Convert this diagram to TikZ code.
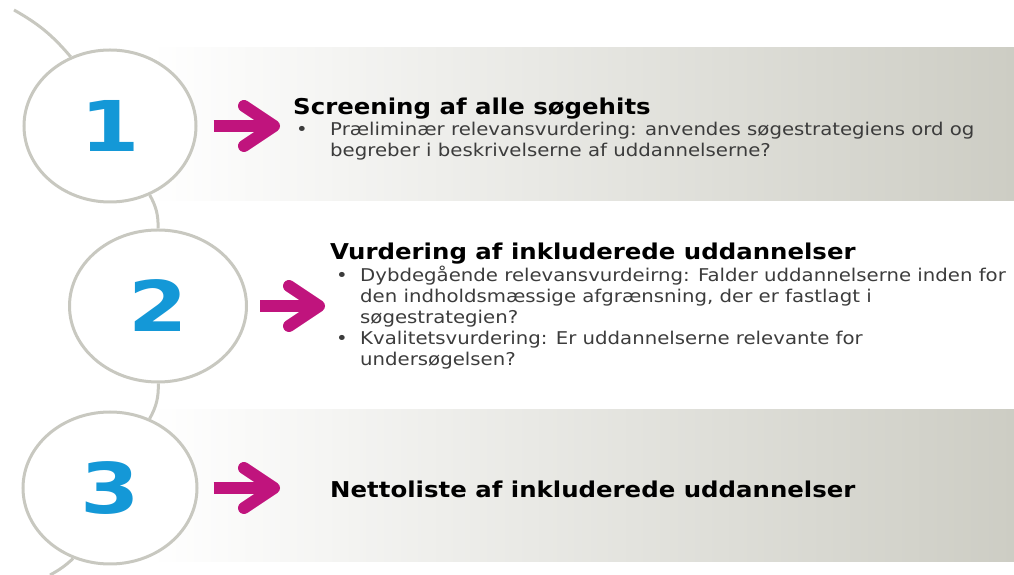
\documentclass[tikz,border=0pt]{standalone}
\usepackage{fontspec}
\setmainfont{DejaVu Sans}[FakeStretch=1.12]
\newfontfamily\numfont{DejaVu Sans}[FakeStretch=1.22]
\usetikzlibrary{shapes.geometric,arrows.meta}

\definecolor{bandgray}{RGB}{205,205,196}
\definecolor{ringgray}{RGB}{200,200,192}
\definecolor{numblue}{RGB}{20,152,215}
\definecolor{arrowpink}{RGB}{192,20,125}
\definecolor{bodygray}{RGB}{60,60,60}

% one bullet paragraph with a hanging indent
\newcommand{\pkt}[2]{\par\noindent\hangindent=#1\hangafter=1\makebox[#1][l]{\textbullet}#2\par}

\begin{document}
\begin{tikzpicture}[x=1pt,y=1pt,
  stage/.style={ellipse,draw=ringgray,line width=3pt,fill=white,minimum width=172pt,minimum height=152pt,inner sep=0pt,text=numblue,font=\numfont\fontsize{70pt}{72pt}\selectfont\bfseries},
  pointer/.style={arrowpink,line width=12pt,-{Straight Barb[length=30pt,width=40pt,round]}},
  link/.style={ringgray,line width=3pt},
  head/.style={anchor=base west,inner sep=0pt,font=\fontsize{21.8pt}{26pt}\selectfont\bfseries},
  bullets/.style={anchor=base west,inner sep=0pt,text=bodygray,font=\fontsize{17.6pt}{21pt}\selectfont}]
  \useasboundingbox (0,0) rectangle (1014,575);
  % grey bands behind step 1 and step 3
  \fill[left color=white,right color=bandgray] (150,374) rectangle (1014,527);
  \fill[left color=white,right color=bandgray] (150,13) rectangle (1014,165);

  \node[stage] (c1) at (110,449) {1};
  \node[stage,minimum width=177pt] (c2) at (158,269) {2};
  \node[stage,minimum width=174pt] (c3) at (110,87) {3};

  \coordinate (arctop) at (14,565);
  \coordinate (arcbot) at (50,0);
  \draw[link] (arctop) to[bend left=10] (c1);
  \draw[link] (c1) to[bend left=15] (c2);
  \draw[link] (c2) to[bend left=15] (c3);
  \draw[link] (c3) to[bend left=7] (arcbot);

  % step 1
  \node[head] (t1) at (293,460) {Screening af alle søgehits};
  \node[bullets] (b1) at (296,439) {\parbox[t]{720pt}{%
    \pkt{34pt}{Præliminær relevansvurdering: anvendes søgestrategiens ord og\\begreber i beskrivelserne af uddannelserne?}}};
  % step 2
  \node[head] (t2) at (330,315) {Vurdering af inkluderede uddannelser};
  \node[bullets] (b2) at (336,293) {\parbox[t]{700pt}{%
    \pkt{24pt}{Dybdegående relevansvurdeirng: Falder uddannelserne inden for\\den indholdsmæssige afgrænsning, der er fastlagt i\\søgestrategien?}%
    \pkt{24pt}{Kvalitetsvurdering: Er uddannelserne relevante for\\undersøgelsen?}}};
  % step 3
  \node[head] (t3) at (330,77) {Nettoliste af inkluderede uddannelser};

  \draw[pointer] ([xshift=16]c1.east) -- ([xshift=-13]c1.east -| t1.west);
  \draw[pointer] ([xshift=12]c2.east) -- ([xshift=-5]c2.east -| t2.west);
  \draw[pointer] ([xshift=15]c3.east) -- ([xshift=-50]c3.east -| t3.west);
\end{tikzpicture}
\end{document}
